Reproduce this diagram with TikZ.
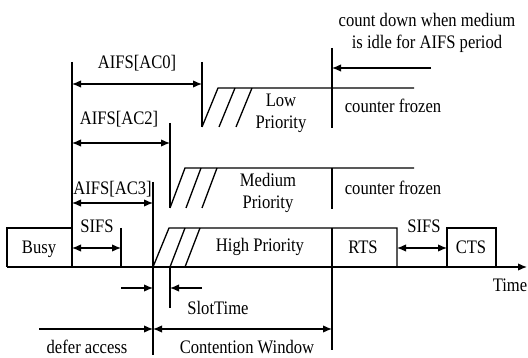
\documentclass[tikz,border=0pt]{standalone}
\usepackage{fontspec}
\usepackage{graphicx}
\setmainfont{Liberation Serif}
\usetikzlibrary{arrows.meta}
\newcommand\lbl[1]{\scalebox{1}[1.15]{\begin{tabular}[t]{@{}c@{}}#1\end{tabular}}}
\tikzset{
  ln/.style={line width=1.3pt},
  arr/.style={ln,-{Latex[length=9pt,width=7.5pt]}},
  darr/.style={ln,{Latex[length=9pt,width=7.5pt]}-{Latex[length=9pt,width=7.5pt]}},
  txt/.style={inner sep=0pt,anchor=base,font=\fontsize{16.6}{18.3}\selectfont}
}
\begin{document}
\begin{tikzpicture}[x=1pt,y=-1pt]
\useasboundingbox (0,0) rectangle (528,358);
% key coordinates
\coordinate (a0) at (7,267);
\coordinate (aE) at (527,267);
% time axis
\draw[arr] (a0) -- (aE);
% Busy box
\draw[ln] (a0) -- (7,228) -- (72,228);
\node[txt] (busy) at (39,254) {\lbl{Busy}};
% main vertical at end of busy
\coordinate (v72t) at (72,62);
\coordinate (v72b) at (72,267);
\draw[ln] (v72t) -- (v72b);
% AIFS[AC0]
\coordinate (ac0L) at (72,84);
\coordinate (ac0R) at (202,84);
\draw[ln] (202,62) -- (202,127);
\draw[darr] (ac0L) -- (ac0R);
\node[txt] (lac0) at (137,69) {\lbl{AIFS[AC0]}};
% Low priority
\draw[ln] (202,127) -- (218,88) -- (414,88);
\draw[ln] (219,127) -- (235,88);
\draw[ln] (236,127) -- (252,88);
\node[txt] (low) at (281,107) {\lbl{Low\\Priority}};
\node[txt] (cf1) at (393,113) {\lbl{counter frozen}};
% vertical at 332
\draw[ln] (332,48) -- (332,128);
\draw[ln] (332,168) -- (332,209);
\draw[ln] (332,228) -- (332,350);
\coordinate (cdR) at (431,68);
\coordinate (cdL) at (332,68);
\draw[arr] (cdR) -- (cdL);
\node[txt] (cd) at (427,27) {\lbl{count down when medium\\is idle for AIFS period}};
% AIFS[AC2]
\coordinate (ac2L) at (72,143);
\coordinate (ac2R) at (170,143);
\draw[ln] (170,123) -- (170,208);
\draw[darr] (ac2L) -- (ac2R);
\node[txt] (lac2) at (119,125) {\lbl{AIFS[AC2]}};
% Medium priority
\draw[ln] (170,208) -- (185,168) -- (414,168);
\draw[ln] (186,208) -- (201,168);
\draw[ln] (202,208) -- (217,168);
\node[txt] (med) at (268,187) {\lbl{Medium\\Priority}};
\node[txt] (cf2) at (393,195) {\lbl{counter frozen}};
% AIFS[AC3]
\coordinate (ac3L) at (72,203);
\coordinate (ac3R) at (153,203);
\draw[ln] (153,182) -- (153,355);
\draw[darr] (ac3L) -- (ac3R);
\node[txt] (lac3) at (112.5,195) {\lbl{AIFS[AC3]}};
% SIFS left
\coordinate (s1L) at (72,248);
\coordinate (s1R) at (121,248);
\draw[ln] (121,228) -- (121,267);
\draw[darr] (s1L) -- (s1R);
\node[txt] (sifs1) at (97,233) {\lbl{SIFS}};
% High priority
\draw[ln] (153,267) -- (169,228) -- (397,228) -- (397,267);
\draw[ln] (170,267) -- (185,228);
\draw[ln] (185,267) -- (200,228);
\node[txt] (high) at (260,252) {\lbl{High Priority}};
\node[txt] (rts) at (363,254) {\lbl{RTS}};
% CTS
\draw[ln] (447,267) -- (447,228) -- (496,228) -- (496,267);
\node[txt] (cts) at (471,254) {\lbl{CTS}};
\coordinate (s2L) at (397,248);
\coordinate (s2R) at (447,248);
\draw[darr] (s2L) -- (s2R);
\node[txt] (sifs2) at (424,233) {\lbl{SIFS}};
\node[txt] (time) at (510,292) {\lbl{Time}};
% SlotTime
\draw[ln] (170,267) -- (170,308);
\coordinate (stA) at (121,288);
\coordinate (stB) at (153,288);
\coordinate (stC) at (202,288);
\coordinate (stD) at (170,288);
\draw[arr] (stA) -- (stB);
\draw[arr] (stC) -- (stD);
\node[txt] (slot) at (218,315) {\lbl{SlotTime}};
% defer / contention
\coordinate (dfL) at (39,329);
\coordinate (dfR) at (153,329);
\coordinate (cwR) at (332,329);
\draw[arr] (dfL) -- (dfR);
\draw[darr] (dfR) -- (cwR);
\node[txt] (defer) at (87,354) {\lbl{defer access}};
\node[txt] (cw) at (247,354) {\lbl{Contention Window}};
\end{tikzpicture}
\end{document}
